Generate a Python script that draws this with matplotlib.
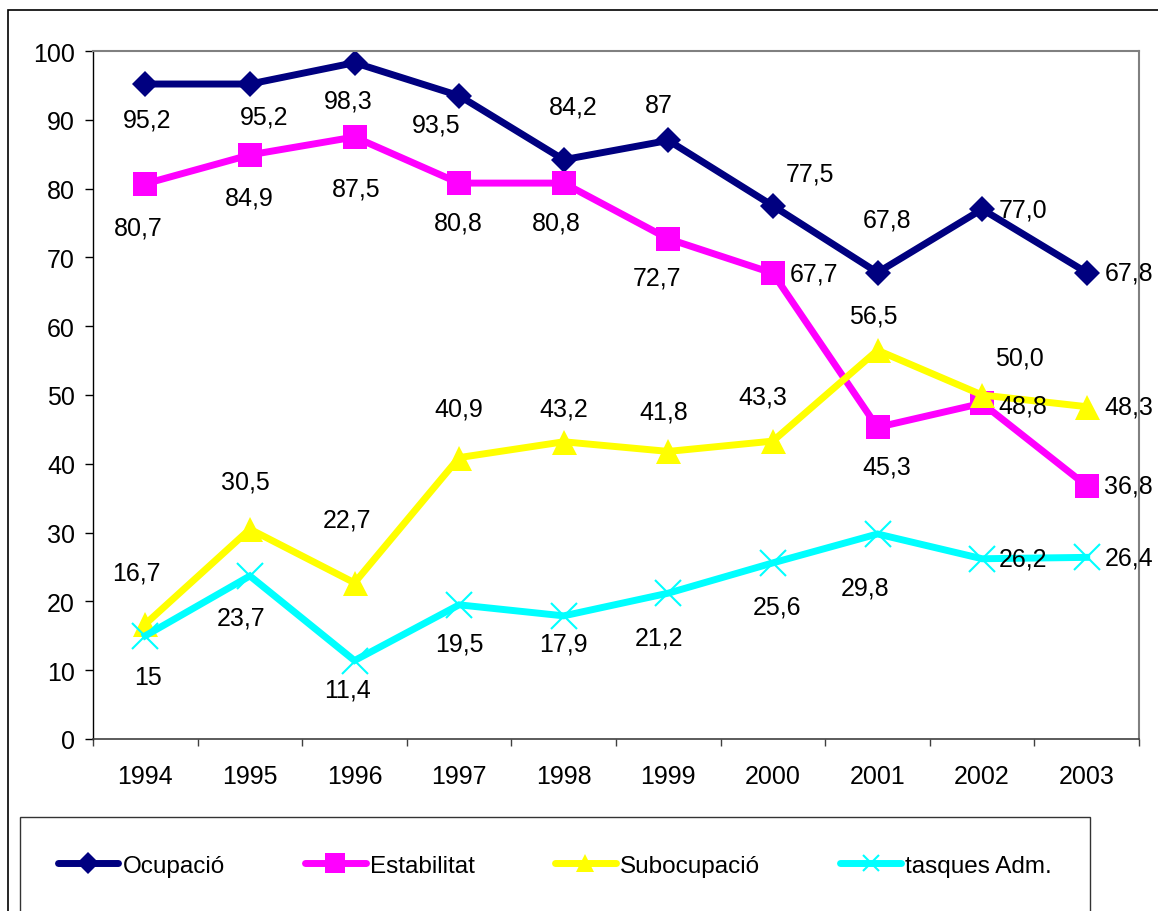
import matplotlib
matplotlib.use("Agg")
import matplotlib.pyplot as plt
from matplotlib.lines import Line2D
from matplotlib.patches import Rectangle

plt.rcParams["font.family"] = ["Liberation Sans", "DejaVu Sans"]

years = ["1994", "1995", "1996", "1997", "1998", "1999", "2000", "2001", "2002", "2003"]

ocupacio = [95.2, 95.2, 98.3, 93.5, 84.2, 87, 77.5, 67.8, 77.0, 67.8]
estabilitat = [80.7, 84.9, 87.5, 80.8, 80.8, 72.7, 67.7, 45.3, 48.8, 36.8]
subocupacio = [16.7, 30.5, 22.7, 40.9, 43.2, 41.8, 43.3, 56.5, 50.0, 48.3]
tasques = [15, 23.7, 11.4, 19.5, 17.9, 21.2, 25.6, 29.8, 26.2, 26.4]

ocupacio_lbl = ["95,2", "95,2", "98,3", "93,5", "84,2", "87", "77,5", "67,8", "77,0", "67,8"]
estabilitat_lbl = ["80,7", "84,9", "87,5", "80,8", "80,8", "72,7", "67,7", "45,3", "48,8", "36,8"]
subocupacio_lbl = ["16,7", "30,5", "22,7", "40,9", "43,2", "41,8", "43,3", "56,5", "50,0", "48,3"]
tasques_lbl = ["15", "23,7", "11,4", "19,5", "17,9", "21,2", "25,6", "29,8", "26,2", "26,4"]

# label offsets from the marker, in pixels (x right, y down)
ocupacio_off = [(2, 35), (14, 32), (-6, 38), (-23, 29), (10, -53), (-9, -35),
                (37, -32), (10, -53), (41, 0), (42, 0)]
estabilitat_off = [(-7, 44), (-1, 43), (2, 51), (-1, 39), (-7, 39), (-11, 39),
                   (41, 0), (9, 39), (41, 2), (42, 0)]
subocupacio_off = [(-9, -52), (-5, -48), (-8, -63), (0, -49), (0, -33), (-5, -40),
                   (-10, -45), (-4, -35), (37, -37), (42, 0)]
tasques_off = [(3, 41), (-9, 42), (-7, 29), (0, 39), (0, 28), (-9, 44),
               (4, 44), (-12, 54), (41, 0), (42, 0)]

series = [
    ("Ocupació", ocupacio, ocupacio_lbl, ocupacio_off, "#000080", "D", 13, 11),
    ("Estabilitat", estabilitat, estabilitat_lbl, estabilitat_off, "#FF00FF", "s", 17, 14),
    ("Subocupació", subocupacio, subocupacio_lbl, subocupacio_off, "#FFFF00", "^", 18, 13),
    ("tasques Adm.", tasques, tasques_lbl, tasques_off, "#00FFFF", "x", 19, 12),
]

FS = 18
LEG_FS = 17.5
W, H = 1158, 912
fig = plt.figure(figsize=(W / 100, H / 100), dpi=100)
ax = fig.add_axes([93 / W, 1 - 740 / H, (1139 - 93) / W, (740 - 52) / H])

x = list(range(len(years)))
handles = []
for name, vals, lbls, offs, color, marker, ms, lms in series:
    ax.plot(x, vals, color=color, lw=5, marker=marker, ms=ms,
            markeredgewidth=1.5 if marker == "x" else 0, markeredgecolor=color,
            solid_joinstyle="miter", clip_on=False)
    for xi, v, t, (dx, dy) in zip(x, vals, lbls, offs):
        ax.annotate(t, (xi, v), xytext=(dx * 0.72, -dy * 0.72), textcoords="offset points",
                    ha="center", va="center", fontsize=FS, color="black")
    handles.append(Line2D([], [], color=color, lw=5, marker=marker, ms=lms,
                          markeredgewidth=1.5 if marker == "x" else 0,
                          markeredgecolor=color, solid_capstyle="round", label=name))

ax.set_xlim(-0.5, len(years) - 0.5)
ax.set_ylim(0, 100)
ax.set_yticks(range(0, 101, 10))
ax.set_xticks(x)
ax.set_xticklabels(years)
ax.set_xticks([i - 0.5 for i in range(len(years) + 1)], minor=True)
ax.tick_params(axis="x", which="major", length=0, pad=18, labelsize=FS)
ax.tick_params(axis="x", which="minor", length=5, width=1, direction="out", color="#404040")
ax.tick_params(axis="y", length=6, width=1, direction="out", pad=7, labelsize=FS)

ax.spines["left"].set_color("black")
ax.spines["left"].set_linewidth(1)
ax.spines["bottom"].set_color("#404040")
ax.spines["bottom"].set_linewidth(1.2)
for s in ("top", "right"):
    ax.spines[s].set_color("#808080")
    ax.spines[s].set_linewidth(1.5)

leg = fig.legend(handles=handles, loc="upper left", bbox_to_anchor=(20 / W, 1 - 818 / H),
                 ncol=4, fontsize=LEG_FS, frameon=True, fancybox=False, borderaxespad=0,
                 handlelength=2.5, handletextpad=0.17, columnspacing=3.3, borderpad=1.55)
leg.get_frame().set_edgecolor("black")
leg.get_frame().set_linewidth(1)

fig.patches.append(Rectangle((8 / W, -0.1), 1.2, 1.1 - 11 / H, transform=fig.transFigure,
                             fill=False, edgecolor="black", lw=1.2))

fig.savefig("out.png", dpi=100)
